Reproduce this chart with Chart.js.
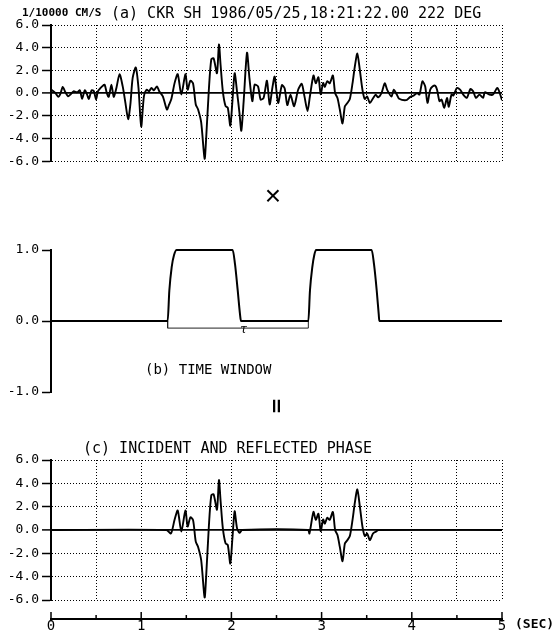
<!DOCTYPE html>
<html>
<head>
<meta charset="utf-8">
<script src="https://cdn.jsdelivr.net/npm/chart.js@4.4.0/dist/chart.umd.min.js"></script>
<style>
  body { margin: 0; background: #fff; }
  #page { position: relative; width: 557px; height: 637px; overflow: hidden; font-family: "DejaVu Sans Mono", monospace; color: #000; }
  .box { position: absolute; left: 0; width: 557px; }
  .txt { position: absolute; white-space: nowrap; line-height: 1; color: #000; }
</style>
</head>
<body>
<div id="page">
  <div class="box" style="top:0;height:172px"><canvas id="cA"></canvas></div>
  <div class="box" style="top:230px;height:175px"><canvas id="cB"></canvas></div>
  <div class="box" style="top:440px;height:197px"><canvas id="cC"></canvas></div>

  <div class="txt" style="left:22px;top:7px;font-size:11px;font-weight:bold">1/10000 CM/S</div>
  <div class="txt" style="left:111px;top:5.5px;font-size:15px">(a) CKR SH 1986/05/25,18:21:22.00 222 DEG</div>
  <div class="txt" style="left:258px;top:180.5px;width:30px;height:30px;line-height:30px;text-align:center;font-size:28px;font-family:'Liberation Sans';will-change:transform">×</div>
  <div class="txt" style="left:237.5px;top:322px;width:12px;height:14px;line-height:14px;text-align:center;font-size:12px;font-style:italic;font-family:'DejaVu Serif'">τ</div>
  <div class="txt" style="left:145px;top:362px;font-size:14px">(b) TIME WINDOW</div>
  <div class="txt" style="left:266.7px;top:395.8px;width:20px;height:20px;line-height:20px;text-align:center;font-size:20px;font-weight:bold;font-family:'DejaVu Sans';transform:rotate(90deg)">=</div>
  <div class="txt" style="left:83px;top:440.5px;font-size:15px">(c) INCIDENT AND REFLECTED PHASE</div>
  <div class="txt" style="left:515px;top:617px;font-size:13px;font-weight:bold">(SEC)</div>
</div>

<script>
// tick values
const ampTicks = [-6, -4, -2, 0, 2, 4, 6];
const winTicks = [-1, 0, 1];
const secTicks = [0, 0.5, 1, 1.5, 2, 2.5, 3, 3.5, 4, 4.5, 5];
const secLabels = ['0', '', '1', '', '2', '', '3', '', '4', '', '5'];

// (a) record, [sec, 1/10000 cm/s]
const recordA = [
  [0, 0.30], [0.012, 0.25], [0.05, 0.0], [0.08, -0.33], [0.105, -0.04], [0.13, 0.54], [0.16, 0.07],
  [0.19, -0.28], [0.215, -0.13], [0.25, 0.16], [0.29, 0.07], [0.32, 0.25], [0.345, -0.51], [0.375, 0.25],
  [0.40, -0.13], [0.42, -0.51], [0.45, 0.25], [0.475, 0.16], [0.50, -0.57], [0.52, 0.16], [0.55, 0.45],
  [0.575, 0.65], [0.595, 0.74], [0.62, -0.04], [0.64, -0.33], [0.67, 0.74], [0.695, -0.33], [0.725, 0.45],
  [0.76, 1.67], [0.795, 0.59], [0.825, -0.86], [0.855, -2.30], [0.88, -1.0], [0.905, 1.32], [0.94, 2.25],
  [0.97, 0.45], [1.00, -2.94], [1.03, -0.28], [1.06, 0.30], [1.085, 0.16], [1.115, 0.45], [1.14, 0.25],
  [1.175, 0.59], [1.20, 0.16], [1.24, -0.28], [1.285, -1.45], [1.31, -1.0], [1.335, -0.5], [1.37, 0.88],
  [1.405, 1.67], [1.445, -0.13], [1.49, 1.67], [1.515, 0.3], [1.545, 1.09], [1.575, 0.85], [1.605, -1.0],
  [1.63, -1.43], [1.665, -2.59], [1.703, -5.78], [1.72, -4.0], [1.75, 0.3], [1.777, 2.97], [1.803, 3.06],
  [1.84, 1.75], [1.862, 4.28], [1.88, 2.5], [1.905, 0.16], [1.935, -1.14], [1.96, -1.29], [1.988, -2.88],
  [2.01, -0.86], [2.036, 1.75], [2.062, 0.16], [2.09, -1.78], [2.11, -3.32], [2.136, -0.71], [2.173, 3.55],
  [2.20, 1.32], [2.232, -0.71], [2.258, 0.74], [2.295, 0.59], [2.324, -0.57], [2.357, -0.43], [2.394, 1.09],
  [2.424, -1.0], [2.455, 0.5], [2.48, 1.45], [2.518, -0.87], [2.56, 0.7], [2.59, 0.43], [2.62, -1.05],
  [2.655, -0.15], [2.695, -1.15], [2.74, 0.29], [2.78, 0.82], [2.81, -0.29], [2.844, -1.59], [2.87, -0.3],
  [2.91, 1.55], [2.935, 0.87], [2.965, 1.39], [2.99, -0.1], [3.017, 0.9], [3.036, 0.55], [3.062, 1.05],
  [3.09, 0.87], [3.125, 1.55], [3.15, 0.0], [3.176, -0.43], [3.202, -1.45], [3.232, -2.67], [3.258, -1.16],
  [3.283, -0.9], [3.313, -0.52], [3.343, 0.87], [3.368, 2.32], [3.396, 3.48], [3.424, 2.03], [3.453, 0.29],
  [3.479, -0.52], [3.505, -0.29], [3.535, -0.87], [3.572, -0.43], [3.60, -0.15], [3.627, -0.38], [3.664, 0.0],
  [3.70, 0.87], [3.727, 0.29], [3.775, -0.3], [3.80, 0.3], [3.835, -0.15], [3.86, -0.5], [3.94, -0.62],
  [3.98, -0.35], [4.02, -0.22], [4.06, 0.0], [4.085, -0.13], [4.118, 1.03], [4.148, 0.6], [4.174, -0.86],
  [4.204, 0.3], [4.233, 0.6], [4.26, 0.65], [4.28, 0.3], [4.307, -0.71], [4.33, -0.57], [4.36, -1.29],
  [4.39, -0.42], [4.41, -1.2], [4.44, -0.13], [4.46, -0.22], [4.50, 0.45], [4.535, 0.3], [4.57, -0.13],
  [4.61, -0.42], [4.65, 0.36], [4.68, 0.16], [4.71, -0.42], [4.75, -0.13], [4.79, -0.42], [4.81, 0.07],
  [4.86, -0.13], [4.90, -0.13], [4.95, 0.45], [5.0, -0.62]
];

// (b) time window
const windowB = [
  [0, 0], [1.293, 0], [1.312, 0.43], [1.338, 0.76], [1.364, 0.93], [1.393, 1], [2.014, 1], [2.04, 0.8],
  [2.07, 0.43], [2.095, 0.1], [2.106, 0], [2.853, 0], [2.871, 0.43], [2.897, 0.76], [2.919, 0.93],
  [2.938, 1], [3.555, 1], [3.581, 0.8], [3.611, 0.43], [3.633, 0.1], [3.64, 0], [5.0, 0]
];
const tauB = [[1.293, 0], [1.293, -0.1], [2.853, -0.1], [2.853, 0]];

// (c) incident and reflected phase
const phaseC = [
  [0, 0], [1.28, 0], [1.33, -0.3], [1.37, 0.88], [1.405, 1.67], [1.445, -0.13], [1.49, 1.67], [1.515, 0.3],
  [1.545, 1.09], [1.575, 0.85], [1.605, -1.0], [1.63, -1.43], [1.665, -2.59], [1.703, -5.78], [1.72, -4.0],
  [1.75, 0.3], [1.777, 2.97], [1.803, 3.06], [1.84, 1.75], [1.862, 4.28], [1.88, 2.5], [1.905, 0.16],
  [1.935, -1.14], [1.96, -1.29], [1.988, -2.88], [2.01, -0.86], [2.036, 1.6], [2.062, 0.16], [2.09, -0.25],
  [2.12, 0], [2.85, 0], [2.865, -0.3], [2.91, 1.55], [2.935, 0.87], [2.965, 1.39], [2.99, -0.1], [3.017, 0.9],
  [3.036, 0.55], [3.062, 1.05], [3.09, 0.87], [3.125, 1.55], [3.15, 0.0], [3.176, -0.43], [3.202, -1.45],
  [3.232, -2.67], [3.258, -1.16], [3.283, -0.9], [3.313, -0.52], [3.343, 0.87], [3.368, 2.32], [3.396, 3.48],
  [3.424, 2.03], [3.453, 0.29], [3.479, -0.52], [3.505, -0.29], [3.535, -0.87], [3.57, -0.3], [3.60, -0.15],
  [3.63, 0], [5.0, 0]
];

Chart.defaults.font.family = '"DejaVu Sans Mono", monospace';
Chart.defaults.font.size = 13;
Chart.defaults.color = '#000';

const pts = arr => arr.map(p => ({ x: p[0], y: p[1] }));
const fixTicks = list => scale => { scale.ticks = list.map(v => ({ value: v })); };
const isZeroY = c => c.tick && c.tick.value === 0 && c.scale.axis === 'y';
const dotted = c => isZeroY(c) ? [] : [1, 2];
const noPlugins = { legend: { display: false }, tooltip: { enabled: false } };

function ampAxis() {
  return {
    min: -6, max: 6,
    afterBuildTicks: fixTicks(ampTicks),
    afterFit: s => { s.width = 51; },
    ticks: { callback: v => v.toFixed(1), padding: 3 },
    grid: { color: '#000', lineWidth: c => isZeroY(c) ? 1.8 : 1, tickLength: 9, tickColor: '#000', tickWidth: 1.5, tickBorderDash: [] },
    border: { display: true, color: '#000', width: 2, dash: dotted }
  };
}
function timeGrid(h) {
  return {
    type: 'linear', min: 0, max: 5,
    afterBuildTicks: fixTicks(secTicks),
    afterFit: s => { s.height = h; },
    ticks: { display: false },
    grid: { color: '#000', lineWidth: 1, drawTicks: false },
    border: { display: false, dash: [1, 2] }
  };
}
const trace = arr => ({ data: pts(arr), borderColor: '#000', borderWidth: 1.9, pointRadius: 0, tension: 0.25 });

// (a)
new Chart(document.getElementById('cA'), {
  type: 'line',
  data: { datasets: [trace(recordA)] },
  options: {
    responsive: true, maintainAspectRatio: false, animation: false,
    layout: { padding: { top: 25, right: 55, bottom: 9, left: 0 } },
    plugins: noPlugins,
    scales: { x: timeGrid(0), y: ampAxis() }
  }
});

// (b)
new Chart(document.getElementById('cB'), {
  type: 'line',
  data: {
    datasets: [
      { data: pts(windowB), borderColor: '#000', borderWidth: 2, pointRadius: 0, cubicInterpolationMode: 'monotone', clip: false },
      { data: pts(tauB), borderColor: '#222', borderWidth: 1, pointRadius: 0, tension: 0, clip: false }
    ]
  },
  options: {
    responsive: true, maintainAspectRatio: false, animation: false,
    layout: { padding: { top: 20, right: 55, bottom: 13, left: 0 } },
    plugins: noPlugins,
    scales: {
      x: { type: 'linear', min: 0, max: 5, display: false },
      y: {
        min: -1, max: 1,
        afterBuildTicks: fixTicks(winTicks),
        afterFit: s => { s.width = 51; },
        ticks: { callback: v => v.toFixed(1), padding: 3 },
        grid: { drawOnChartArea: false, tickLength: 9, color: '#000', tickWidth: 1.5 },
        border: { color: '#000', width: 2 }
      }
    }
  }
});

// tick marks of the seconds axis point up from the axis line
const secTickMarks = {
  id: 'secTickMarks',
  afterDraw(chart) {
    const s = chart.scales.x2, ctx = chart.ctx;
    ctx.save();
    ctx.strokeStyle = '#000';
    ctx.lineWidth = 1.5;
    s.ticks.forEach((t, i) => {
      const x = s.getPixelForValue(t.value);
      const major = secLabels[i] !== '';
      ctx.beginPath();
      ctx.moveTo(x, s.top - (major ? 7 : 4));
      ctx.lineTo(x, s.top + (major ? 2.5 : 0));
      ctx.stroke();
    });
    ctx.restore();
  }
};

// (c)
new Chart(document.getElementById('cC'), {
  type: 'line',
  data: { datasets: [trace(phaseC)] },
  options: {
    responsive: true, maintainAspectRatio: false, animation: false,
    layout: { padding: { top: 20, right: 55, bottom: 0, left: 0 } },
    plugins: noPlugins,
    scales: {
      x: timeGrid(19),
      x2: {
        type: 'linear', min: 0, max: 5, position: 'bottom', weight: 1,
        afterBuildTicks: fixTicks(secTicks),
        afterFit: s => { s.height = 18; },
        ticks: { callback: (v, i) => secLabels[i], autoSkip: false, maxRotation: 0, padding: 0, font: { size: 14, lineHeight: 1 } },
        grid: { display: false, drawTicks: false },
        border: { display: true, color: '#000', width: 2 }
      },
      y: ampAxis()
    }
  },
  plugins: [secTickMarks]
});
</script>
</body>
</html>
